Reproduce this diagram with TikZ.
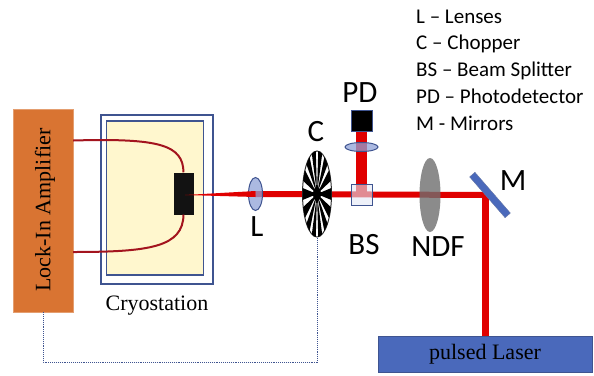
\documentclass[tikz,border=0pt]{standalone}
\usepackage{fontspec}
\setmainfont{Liberation Serif}
\newfontfamily\labelfont{Carlito}
\usetikzlibrary{positioning,shapes.geometric,backgrounds}
\definecolor{BenchOrange}{HTML}{D97432}
\definecolor{BenchNavy}{HTML}{3F5490}
\definecolor{BenchBlue}{HTML}{4A69BB}
\definecolor{BenchLens}{HTML}{8FA2D8}
\definecolor{BenchCream}{HTML}{FFF7CE}
\definecolor{BenchRed}{HTML}{E00000}
\definecolor{BenchWire}{HTML}{A3141E}
\definecolor{BenchGray}{HTML}{6E6E6E}
\newcommand{\benchlabel}[3]{%
  \node[inner sep=0pt,font=\labelfont\fontsize{31}{31}\selectfont] (#1) at (#2) {#3};}
\newcommand{\benchlens}[3]{%
  \node[ellipse,draw=BenchNavy,fill=BenchLens,fill opacity=0.75,line width=1pt,
        inner sep=0pt,#3] (#1) at (#2) {};}
\begin{document}
\begin{tikzpicture}[x=1pt,y=-1pt]
  \useasboundingbox (0,0) rectangle (594,375);
  % instruments
  \node[draw=BenchOrange!70,fill=BenchOrange,minimum width=60pt,minimum height=203pt,inner sep=0pt] (lockin) at (43,210.5) {};
  \node[rotate=90,font=\fontsize{22}{22}\selectfont,inner sep=0pt] (lockintext) at (45,210) {Lock-In Amplifier};
  \node[draw=BenchNavy,fill=white,line width=1.4pt,minimum width=112pt,minimum height=169pt,inner sep=0pt] (cryoout) at (157,199.5) {};
  \node[draw=BenchNavy,fill=BenchCream,line width=1.4pt,minimum width=97pt,minimum height=154pt,inner sep=0pt] (cryoin) at (155,198) {};
  \node[fill=black!93,minimum width=20pt,minimum height=42pt,inner sep=0pt] (sample) at (183.5,193.5) {};
  \node[font=\fontsize{22}{22}\selectfont,inner sep=0pt] (cryotext) at (157,306) {Cryostation};
  \node[draw=BenchNavy,fill=BenchBlue,minimum width=214pt,minimum height=36pt,inner sep=0pt,
        font=\fontsize{22}{22}\selectfont] (laser) at (485,354) {pulsed Laser};
  % optics
  \benchlens{lensL}{255.5,194}{minimum width=14pt,minimum height=33pt}
  \benchlens{lensPD}{361.5,147}{minimum width=33pt,minimum height=9pt}
  \node[ellipse,fill=BenchGray,fill opacity=0.8,minimum width=21pt,minimum height=74pt,inner sep=0pt] (ndf) at (430,195) {};
  \node[draw=BenchNavy,fill=black,line width=1pt,minimum size=21pt,inner sep=0pt] (detector) at (361.5,120.5) {};
  \node[draw=BenchNavy,fill=BenchLens!25,fill opacity=0.6,line width=1pt,minimum size=21pt,inner sep=0pt] (splitter) at (361.5,195) {};
  \node[rectangle,draw=BenchNavy!80,fill=BenchBlue,minimum width=54pt,minimum height=7pt,inner sep=0pt,rotate=-49] (mirror) at (490,195) {};
  \node[ellipse,draw=black!80,fill=white,line width=1pt,minimum width=29pt,minimum height=86pt,inner sep=0pt] (chopper) at (317,194) {};
  \begin{scope}[shift={(chopper.center)}]
    \foreach \spoke in {0,...,13}{
      \pgfmathsetmacro{\ang}{\spoke*360/14}
      \fill[black] (0,0) -- (\ang-8:14.5 and 43) -- (\ang:14.5 and 43) -- (\ang+8:14.5 and 43) -- cycle;
    }
    \fill[black] (0,0) circle[x radius=4pt,y radius=7pt];
  \end{scope}
  \coordinate (turn) at (485,195);
  \coordinate (focus) at (185,195);
  % beams and wires go under the optics
  \begin{scope}[on background layer]
    \fill[white] (0,0) rectangle (594,375);
    \draw[BenchRed,line width=7pt] (laser.north -| turn) -- (turn);
    \draw[BenchRed,line width=6pt] (turn) ++(3.5,0) -- (lensL.center);
    \draw[BenchRed,line width=11pt] (detector.south) -- (splitter.center);
  \end{scope}
  \fill[BenchRed] (focus) -- ([yshift=3pt]lensL.center) -- ([yshift=-3pt]lensL.center) -- cycle;
  \draw[BenchWire,line width=2pt] (lockin.east |- 0,140.5) .. controls (160,138) and (183,145) .. (sample.north);
  \draw[BenchWire,line width=2pt] (lockin.east |- 0,252) .. controls (150,252) and (183,247) .. (sample.south);
  \draw[BenchNavy,densely dotted,line width=0.9pt] (lockin.south) |- (317,362) -- (chopper.south);
  % labels
  \benchlabel{labelL}{257,227}{L}
  \benchlabel{labelC}{316,132}{C}
  \benchlabel{labelPD}{360,93}{PD}
  \benchlabel{labelBS}{364,245}{BS}
  \benchlabel{labelNDF}{438,247}{NDF}
  \benchlabel{labelM}{513,181}{M}
  \node[anchor=west,align=left,inner sep=0pt,font=\labelfont\fontsize{21}{26.7}\selectfont] (legend) at (416,70)
    {L – Lenses\\C – Chopper\\BS – Beam Splitter\\PD – Photodetector\\M - Mirrors};
\end{tikzpicture}
\end{document}
